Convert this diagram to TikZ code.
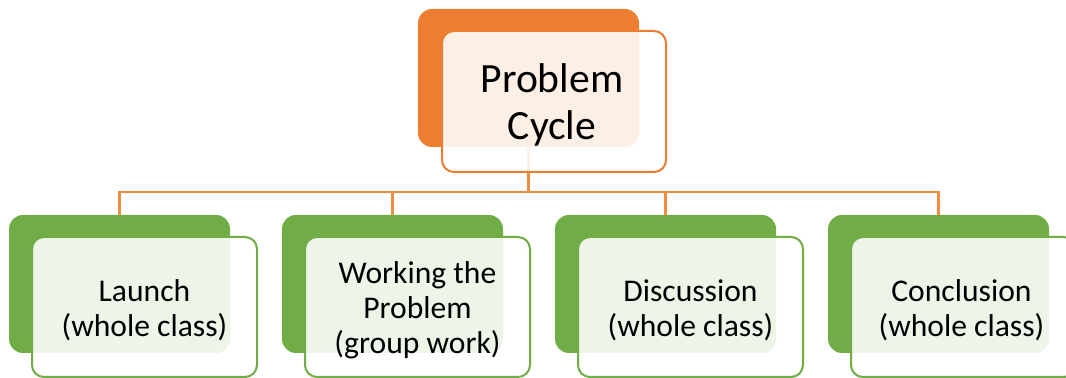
\documentclass[tikz,border=0pt]{standalone}
\usepackage{fontspec}
\setmainfont{Carlito}
\definecolor{orng}{HTML}{ED7D31}
\definecolor{grn}{HTML}{70AD47}
\definecolor{connc}{HTML}{F28C41}
\begin{document}
\begin{tikzpicture}[x=0.5pt,y=-0.5pt,
  backbox/.style={rounded corners=7pt, fill=#1, draw=none, inner sep=0pt, outer sep=0pt},
  frontbox/.style={rounded corners=6pt, draw=#1, line width=1pt, fill=white, fill opacity=0.88, inner sep=0pt, outer sep=0pt},
  boxtext/.style={align=center, inner sep=0pt},
  conn/.style={draw=connc, line width=1.1pt},
  topfont/.style={font=\fontsize{20.8pt}{23.5pt}\selectfont},
  subfont/.style={font=\fontsize{15.8pt}{17.5pt}\selectfont}]
\useasboundingbox (0,0) rectangle (1066,378);
\clip (0,0) rectangle (1066,378);
\coordinate (bar) at (0,192);
% back boxes
\node[backbox=orng, minimum width=110.5pt, minimum height=69pt] (ob) at (528.5,78) {};
\node[backbox=grn, minimum width=110.5pt, minimum height=69pt] (gb1) at (119.5,284) {};
\node[backbox=grn, minimum width=110.5pt, minimum height=69pt] (gb2) at (392.5,284) {};
\node[backbox=grn, minimum width=110.5pt, minimum height=69pt] (gb3) at (665.5,284) {};
\node[backbox=grn, minimum width=110.5pt, minimum height=69pt] (gb4) at (938.5,284) {};
% connectors
\draw[conn] (ob.south) -- (ob.south |- bar);
\draw[conn] (gb1.north) -- (gb1.north |- bar) -- (gb4.north |- bar) -- (gb4.north);
\draw[conn] (gb2.north) -- (gb2.north |- bar);
\draw[conn] (gb3.north) -- (gb3.north |- bar);
% front boxes
\node[frontbox=orng, minimum width=112pt, minimum height=70.5pt] (of) at (554,101.5) {};
\node[frontbox=grn, minimum width=112.5pt, minimum height=70pt] (gf1) at (144.5,307) {};
\node[frontbox=grn, minimum width=112.5pt, minimum height=70pt] (gf2) at (417.5,307) {};
\node[frontbox=grn, minimum width=112.5pt, minimum height=70pt] (gf3) at (690.5,307) {};
\node[frontbox=grn, minimum width=112.5pt, minimum height=70pt] (gf4) at (963.5,307) {};
% texts
\node[boxtext, topfont] (ot) at ([xshift=-1pt,yshift=-1.5pt]of.center) {Problem\\Cycle};
\node[boxtext, subfont] (t1) at ([yshift=-1.8pt]gf1.center) {Launch\\(whole class)};
\node[boxtext, subfont] (t2) at ([yshift=-1.8pt]gf2.center) {Working the\\Problem\\(group work)};
\node[boxtext, subfont] (t3) at ([yshift=-1.8pt]gf3.center) {Discussion\\(whole class)};
\node[boxtext, subfont] (t4) at ([xshift=-1pt,yshift=-1.8pt]gf4.center) {Conclusion\\(whole class)};
\end{tikzpicture}
\end{document}
